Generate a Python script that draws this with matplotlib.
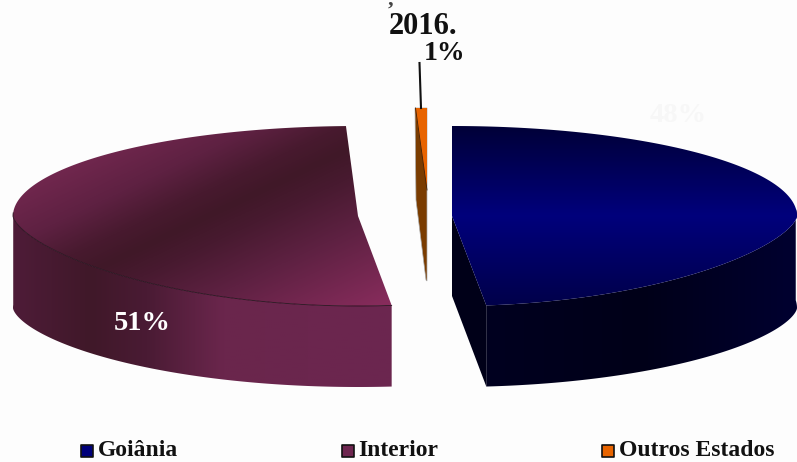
import numpy as np
import matplotlib
matplotlib.use('Agg')
import matplotlib.pyplot as plt
from matplotlib.colors import LinearSegmentedColormap
from matplotlib.patches import Polygon

labels = ['Goiânia', 'Interior', 'Outros Estados']
shares = [48, 51, 1]
pct_labels = ['48%', '51%', '1%']
leg_colors = ['#00007a', '#6e2650', '#e86400']

W, H = 797, 462
RX, RY = 345, 90
DEPTH = 81
DEPTH_EXTRA = 11

plt.rcParams['font.family'] = ['Liberation Serif', 'DejaVu Serif']


def rim(cx, cy, a0, a1, n=300):
    # rim of the tilted disc, front half a bit flatter than the back half
    t = np.radians(np.linspace(a0, a1, n))
    s = np.sin(t)
    y = np.where(s < 0, np.abs(s)**1.3, -s)
    return cx + RX*np.cos(t), cy + RY*y


def wall_poly(cx, ex, ey):
    d = DEPTH + DEPTH_EXTRA*((ex-cx)/RX)**2
    return np.column_stack([np.r_[ex, ex[::-1]], np.r_[ey, (ey+d)[::-1]]])


def grad(ax, pts, vals, cmap, z):
    # paint a gradient clipped to a polygon
    poly = Polygon(pts, facecolor='none', edgecolor='none', zorder=z)
    ax.add_patch(poly)
    im = ax.imshow(vals, extent=(0, W, H, 0), cmap=cmap, vmin=0, vmax=1, aspect='auto', zorder=z, interpolation='bilinear')
    im.set_clip_path(poly)


fig = plt.figure(figsize=(W/100, H/100), dpi=100, facecolor='#fdfdfd')
ax = fig.add_axes([0, 0, 1, 1])

X, Y = np.meshgrid(np.arange(0, W+1, 2.0), np.arange(0, H+1, 2.0))

blue_top = LinearSegmentedColormap.from_list('bt', [(0, '#000038'), (0.5, '#00007c'), (1, '#00004a')])
blue_wall = LinearSegmentedColormap.from_list('bw', ['#000020', '#000018', '#000030'])
mar_top = LinearSegmentedColormap.from_list('mt', [(0, '#742850'), (0.2, '#5e2142'), (0.33, '#481a2f'), (0.42, '#401828'), (0.52, '#481a30'), (0.7, '#5e2142'), (1, '#872c5c')])
mar_wall = LinearSegmentedColormap.from_list('mw', [(0, '#4e1c38'), (0.2, '#401829'), (0.35, '#4a1b34'), (0.55, '#6a264c'), (1, '#6c2650')])

# Goiania, from the top of the disc clockwise
cx, cy = 452, 216
ex, ey = rim(cx, cy, 90, 90 - shares[0]*3.6 - 1.5)
front = ey > cy - 8
grad(ax, wall_poly(cx, ex[front], ey[front]), np.clip((X-485)/312, 0, 1), blue_wall, 2)
ax.add_patch(Polygon([[cx, cy], [ex[-1], ey[-1]], [ex[-1], ey[-1]+DEPTH], [cx, cy+DEPTH-1]],
                     facecolor='#000018', edgecolor='none', zorder=2.5))
grad(ax, np.column_stack([np.r_[cx, ex], np.r_[cy, ey]]), np.clip((Y-126)/179, 0, 1), blue_top, 3)

# Interior
cx, cy = 358, 216
start = -84.4
ex, ey = rim(cx, cy, start, start - shares[1]*3.6)
front = ey > cy - 4
grad(ax, wall_poly(cx, ex[front], ey[front]), np.clip((X-13)/380, 0, 1), mar_wall, 2)
u = (0.43*X + 0.9*Y - 170)/270
grad(ax, np.column_stack([np.r_[cx, ex], np.r_[cy, ey]]), np.clip(u, 0, 1), mar_top, 3)
ax.plot(ex[front], ey[front], color='#26101c', lw=0.6, zorder=3.5)

# Outros Estados, thin sliver seen almost edge on
ax.add_patch(Polygon([[415, 108], [427, 108], [427, 281], [426, 280], [416, 200]],
                     facecolor='#7a3c00', edgecolor='#a8a8a8', linewidth=0.5, zorder=3))
ax.add_patch(Polygon([[415.5, 108], [427, 108], [427, 190]], facecolor='#e86400', edgecolor='none', zorder=3.5))
ax.plot([415.5, 427], [108, 190], color='#3c2008', lw=0.6, zorder=3.6)

# leader line
ax.plot([419.5, 421], [63, 108], color='#111111', lw=1.5, zorder=4)

# labels
ax.text(423.5, 26, '2016.', fontsize=22, fontweight='bold', ha='center', va='center', color='#111111', zorder=5)
ax.text(445, 53, pct_labels[2], fontsize=20, fontweight='bold', ha='center', va='center', color='#111111', zorder=5)
ax.text(142, 323, pct_labels[1], fontsize=20.5, fontweight='bold', ha='center', va='center', color='white', zorder=5)
ax.text(678, 115, pct_labels[0], fontsize=20.5, fontweight='bold', ha='center', va='center', color='#f7f7f7', zorder=5)
ax.text(391, 0, ',', fontsize=16, fontweight='bold', ha='center', va='center', color='#444444', zorder=5)

# legend
for xm, xt, name, c in zip([87, 348, 608], [98, 358, 619], labels, leg_colors):
    ax.scatter([xm], [451], marker='s', s=85, facecolor=c, edgecolor='#111111', linewidth=1.2, zorder=5)
    ax.text(xt, 451, name, fontsize=17, fontweight='bold', ha='left', va='center', color='#111111', zorder=5)

ax.set_xlim(0, W)
ax.set_ylim(H, 0)
ax.axis('off')

fig.savefig('out.png', dpi=100, facecolor=fig.get_facecolor())
